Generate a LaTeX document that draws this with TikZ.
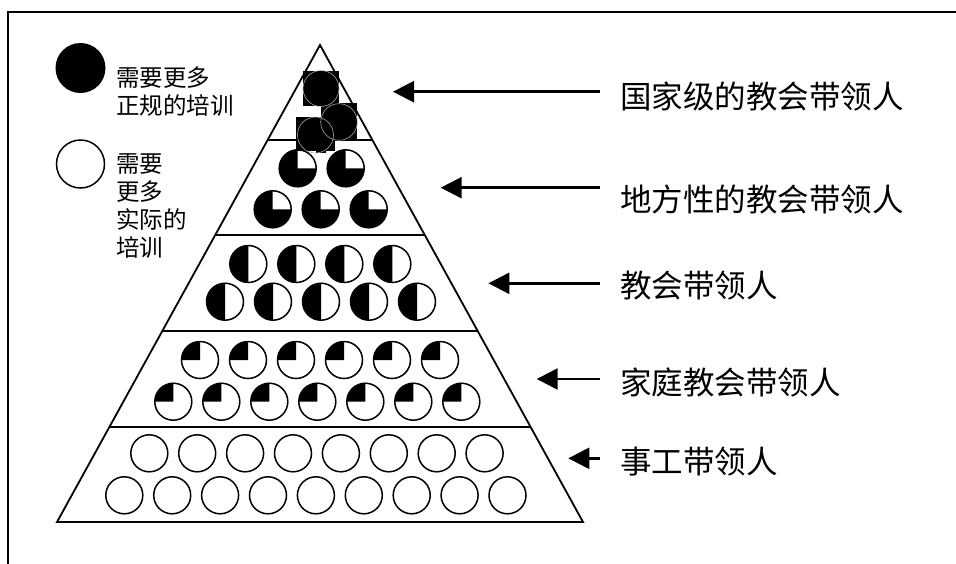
\documentclass[tikz,border=0pt]{standalone}
\usepackage{fontspec}
\newfontfamily\cjk{Noto Sans CJK SC}
\usetikzlibrary{arrows.meta}
\begin{document}
\begin{tikzpicture}[x=1pt,y=-1pt,
  frame/.style={line width=2pt},
  pyr/.style={line width=1.8pt,line join=miter},
  circ/.style={line width=1.5pt},
  arr/.style={line width=2.5pt,-{Triangle[length=21pt,width=21pt]}},
  lab/.style={anchor=west,inner xsep=20pt,inner ysep=0pt,font=\cjk\fontsize{31.5}{36}\selectfont},
  leg/.style={anchor=west,inner sep=0pt,align=left,font=\cjk\fontsize{23.5}{28}\selectfont}]
\useasboundingbox (0,0) rectangle (956,563);
% frame
\draw[frame] (958,12) -- (8,12) -- (8,565);
% pyramid
\coordinate (apex) at (320,45);
\coordinate (bl) at (57,522);
\coordinate (br) at (583,522);
\draw[pyr] (bl) -- (apex) -- (br) -- cycle;
\draw[pyr] (267.62,140) -- (372.38,140);
\draw[pyr] (215.24,235) -- (424.76,235);
\draw[pyr] (162.30,331) -- (477.70,331);
\draw[pyr] (109.37,427) -- (530.63,427);
% tier 1 : black squares with thin circle outlines
\fill (303,71) rectangle (339,106);
\fill (320.7,103.3) rectangle (357.3,140.7);
\fill (296,117) rectangle (335,150.5);
\fill (316,150) rectangle (325.7,153.3);
\draw[gray!70,line width=0.6pt] (321,88.5) circle[radius=18];
\draw[gray!70,line width=0.6pt] (339,122) circle[radius=18.3];
\draw[gray!70,line width=0.6pt] (315.5,135) circle[radius=18];
% tier 2 : three-quarter black (top-right white)
\foreach \x/\y in {297.7/168.3,345.7/168.3,272.7/209.3,320.7/209.3,368.7/209.3}{
  \fill (\x,\y) -- +(0,-18.5) arc[start angle=270,end angle=0,radius=18.5] -- cycle;
  \draw[circ] (\x,\y) circle[radius=18.5];
}
% tier 3 : left half black
\foreach \x/\y in {248.3/264,296.3/264,344.3/264,392.3/264,225/301.7,273/301.7,321/301.7,369/301.7,417/301.7}{
  \fill (\x,\y) -- +(0,-18.5) arc[start angle=270,end angle=90,radius=18.5] -- cycle;
  \draw[circ] (\x,\y) circle[radius=18.5];
}
% tier 4 : top-left quarter black
\foreach \i in {0,...,5}{
  \pgfmathsetmacro{\xx}{200+48*\i}
  \fill (\xx,360) -- +(-18.5,0) arc[start angle=180,end angle=270,radius=18.5] -- cycle;
  \draw[circ] (\xx,360) circle[radius=18.5];
}
\foreach \i in {0,...,6}{
  \pgfmathsetmacro{\xx}{173.3+48*\i}
  \fill (\xx,401.7) -- +(-18.5,0) arc[start angle=180,end angle=270,radius=18.5] -- cycle;
  \draw[circ] (\xx,401.7) circle[radius=18.5];
}
% tier 5 : white
\foreach \i in {0,...,7}{
  \pgfmathsetmacro{\xx}{149.3+47.9*\i}
  \draw[circ] (\xx,453.3) circle[radius=18.5];
}
\foreach \i in {0,...,8}{
  \pgfmathsetmacro{\xx}{124.3+47.9*\i}
  \draw[circ] (\xx,495.3) circle[radius=18.5];
}
% legend
\fill (80.5,68) circle[radius=25];
\draw[circ] (80.5,164) circle[radius=24];
\node[leg] (leg1) at (116,92) {需要更多\\正规的培训};
\node[leg] (leg2) at (116,206.5) {需要\\更多\\实际的\\培训};
% labels and arrows
\node[lab] (l1) at (600,96) {国家级的教会带领人};
\node[lab] (l2) at (600,199) {地方性的教会带领人};
\node[lab] (l3) at (600,286) {教会带领人};
\node[lab] (l4) at (600,382) {家庭教会带领人};
\node[lab] (l5) at (600,461.5) {事工带领人};
\coordinate (t1) at (393,91.7);
\coordinate (t2) at (440.7,187.7);
\coordinate (t3) at (488.4,283.3);
\coordinate (t4) at (536.7,379);
\coordinate (t5) at (568.3,458.3);
\draw[arr] (l1.west |- t1) -- (t1);
\draw[arr] (l2.west |- t2) -- (t2);
\draw[arr] (l3.west |- t3) -- (t3);
\draw[arr] (l4.west |- t4) -- (t4);
\draw[arr] (l5.west |- t5) -- (t5);
\end{tikzpicture}
\end{document}
